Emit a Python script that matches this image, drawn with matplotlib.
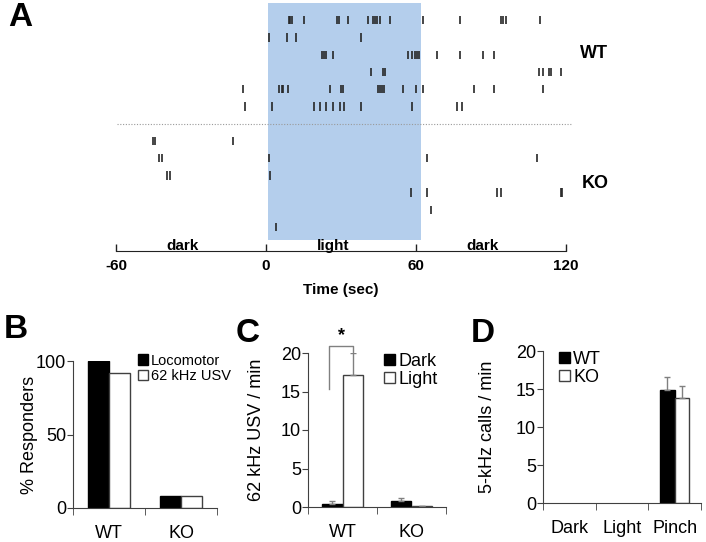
import matplotlib.pyplot as plt
import numpy as np

plt.rcParams['font.family'] = ['Liberation Sans', 'DejaVu Sans']

# Panel A: event times (sec from light onset), one list per animal
wt_rows = [
    [8.2, 8.6, 9.4, 14.1, 27.1, 27.8, 31.4, 39.2, 41.2, 42.0, 42.7, 43.9, 47.8, 60.8, 75.3, 91.4, 92.2, 93.3, 106.7],
    [0.2, 7.5, 10.9, 36.5],
    [21.2, 22.0, 22.7, 25.5, 54.9, 56.5, 57.6, 58.4, 59.2, 66.3, 75.3, 84.3, 88.6],
    [40.4, 45.1, 45.9, 106.3, 107.8, 110.2, 111.0, 114.9],
    [-9.8, 4.5, 5.3, 6.0, 7.8, 24.3, 28.6, 29.4, 43.1, 43.9, 44.7, 45.5, 52.9, 58.0, 60.8, 80.8, 88.6, 107.8],
    [-9.0, 1.6, 18.0, 20.4, 22.7, 25.5, 28.2, 29.8, 36.5, 56.5, 74.1, 76.1],
]
ko_rows = [
    [-45.1, -44.5, -13.7],
    [-42.7, -41.6, 0.4, 62.4, 105.5],
    [-39.6, -38.4, 0.8],
    [56.1, 62.4, 89.8, 91.4, 114.9, 115.3],
    [63.9],
    [3.1],
]
time_ticks = [-60, 0, 60, 120]
phase_labels = ['dark', 'light', 'dark']
phase_pos = [-33.5, 27, 86.5]

# Panel B
b_groups = ['WT', 'KO']
b_locomotor = [100, 8.3]
b_usv = [91.7, 8.3]

# Panel C
c_groups = ['WT', 'KO']
c_dark = [0.43, 0.74]
c_dark_err = [0.3, 0.43]
c_light = [17.1, 0.12]
c_light_err = [2.9, 0.05]

# Panel D
d_groups = ['Dark', 'Light', 'Pinch']
d_wt = [0, 0, 14.85]
d_wt_err = [0, 0, 1.75]
d_ko = [0, 0, 13.8]
d_ko_err = [0, 0, 1.65]

W, H = 706, 542
fig = plt.figure(figsize=(W / 100, H / 100), dpi=100)


def box(l, t, r, b):
    return [l / W, 1 - b / H, (r - l) / W, (b - t) / H]


# ---- A raster ----
ax = fig.add_axes(box(115, 3, 574, 240))
ax.axvspan(0, 60, color='#b4ceec', lw=0)
for i, times in enumerate(wt_rows):
    ax.vlines(times, i - 0.24, i + 0.24, color='#262626', lw=1.2)
for i, times in enumerate(ko_rows):
    ax.vlines(times, i + 7 - 0.24, i + 7 + 0.24, color='#262626', lw=1.2)
ax.axhline(6, xmin=0.005, xmax=0.995, color='#9a9a9a', ls=(0, (1, 1.5)), lw=0.8)
ax.set_xlim(-60, 120)
ax.set_ylim(12.75, -1.0)
ax.axis('off')

fig.text(580 / W, 1 - 53 / H, 'WT', fontsize=13, fontweight='bold', va='center')
fig.text(582 / W, 1 - 183 / H, 'KO', fontsize=13, fontweight='bold', va='center')

tl = fig.add_axes(box(116, 240, 566, 251))
tl.set_facecolor('none')
for s in ['left', 'right', 'top']:
    tl.spines[s].set_visible(False)
tl.spines['bottom'].set_color('#222222')
tl.set_xlim(-60, 120)
tl.set_ylim(0, 1)
tl.set_yticks([])
tl.set_xticks(time_ticks)
tl.set_xticklabels([str(t) for t in time_ticks], fontsize=11, fontweight='bold')
tl.tick_params(axis='x', direction='in', length=5, width=1, pad=6, color='#222222')
tl.set_xlabel('Time (sec)', fontsize=11, fontweight='bold', labelpad=7)
for lab, xp in zip(phase_labels, phase_pos):
    tl.text(xp, 0.45, lab, fontsize=11, fontweight='bold', ha='center', va='center')


def style(ax, ncat):
    ax.spines['right'].set_visible(False)
    ax.spines['top'].set_visible(False)
    for s in ['left', 'bottom']:
        ax.spines[s].set_color('#404040')
    ax.set_xlim(-0.5, ncat - 0.5)
    ax.set_xticks(np.arange(ncat))
    ax.set_xticks(np.arange(ncat + 1) - 0.5, minor=True)
    ax.tick_params(axis='x', which='major', length=0, labelsize=13, pad=12)
    ax.tick_params(axis='x', which='minor', length=5, direction='out', color='#404040')
    ax.tick_params(axis='y', length=4, direction='out', labelsize=13, pad=1, color='#404040')


def bars(ax, x, vals, w, face, edge, label):
    x = np.asarray(x, dtype=float)
    vals = np.asarray(vals, dtype=float)
    m = vals > 0
    return ax.bar(x[m], vals[m], w, color=face, edgecolor=edge, lw=1, label=label)


def errs(ax, x, vals, err):
    x = np.asarray(x)
    vals = np.asarray(vals, dtype=float)
    err = np.asarray(err, dtype=float)
    m = err > 0
    ax.errorbar(x[m], vals[m], yerr=[np.zeros(m.sum()), err[m]], fmt='none',
                ecolor='#808080', elinewidth=1, capsize=2.5, capthick=1)


leg_kw = dict(loc='upper left', frameon=False, handletextpad=0.2,
              borderaxespad=0, borderpad=0)

# ---- B ----
axb = fig.add_axes(box(73, 361, 217, 508))
x = np.arange(len(b_groups))
w = 0.29
bars(axb, x - w / 2, b_locomotor, w, 'black', 'black', 'Locomotor')
bars(axb, x + w / 2, b_usv, w, 'white', '#404040', '62 kHz USV')
style(axb, len(b_groups))
axb.set_xticklabels(b_groups)
axb.set_ylim(0, 100)
axb.set_yticks([0, 50, 100])
axb.set_ylabel('% Responders', fontsize=13)
axb.yaxis.set_label_coords(-0.245, 0.5)
axb.legend(bbox_to_anchor=(0.45, 1.05), fontsize=10.5, handlelength=0.7,
           handleheight=0.7, labelspacing=0.1, **leg_kw)

# ---- C ----
axc = fig.add_axes(box(308, 353, 446, 507))
x = np.arange(len(c_groups))
w = 0.30
bars(axc, x - w / 2, c_dark, w, 'black', 'black', 'Dark')
bars(axc, x + w / 2, c_light, w, 'white', '#404040', 'Light')
errs(axc, x - w / 2, c_dark, c_dark_err)
errs(axc, x + w / 2, c_light, c_light_err)
style(axc, len(c_groups))
axc.set_xticklabels(c_groups)
axc.set_ylim(0, 20)
axc.set_yticks([0, 5, 10, 15, 20])
axc.set_ylabel('62 kHz USV / min', fontsize=13)
axc.yaxis.set_label_coords(-0.31, 0.5)
xl, xr = -w / 2 - 0.04, w / 2
axc.plot([xl, xl, xr, xr], [15.3, 20.9, 20.9, 20.1], color='#808080', lw=1, clip_on=False)
axc.text((xl + xr) / 2, 21.2, '*', fontsize=13, fontweight='bold', ha='center', va='bottom')
axc.legend(bbox_to_anchor=(0.55, 1.0), fontsize=13, handlelength=0.6,
           handleheight=0.6, labelspacing=0.05, **leg_kw)

# ---- D ----
axd = fig.add_axes(box(543, 351, 701, 503))
x = np.arange(len(d_groups))
w = 0.28
bars(axd, x - w / 2, d_wt, w, 'black', 'black', 'WT')
bars(axd, x + w / 2, d_ko, w, 'white', '#404040', 'KO')
errs(axd, x - w / 2, d_wt, d_wt_err)
errs(axd, x + w / 2, d_ko, d_ko_err)
style(axd, len(d_groups))
axd.set_xticklabels(d_groups)
axd.set_ylim(0, 20)
axd.set_yticks([0, 5, 10, 15, 20])
axd.set_ylabel('5-kHz calls / min', fontsize=13)
axd.yaxis.set_label_coords(-0.30, 0.5)
axd.legend(bbox_to_anchor=(0.1, 1.0), fontsize=13, handlelength=0.6,
           handleheight=0.6, labelspacing=0.05, **leg_kw)

# panel letters
for lab, px, py in [('A', 8, 18), ('B', 4, 329), ('C', 236, 333), ('D', 471, 334)]:
    fig.text(px / W, 1 - py / H, lab, fontsize=24, fontweight='bold', va='center')

fig.savefig('out.png', dpi=100)
